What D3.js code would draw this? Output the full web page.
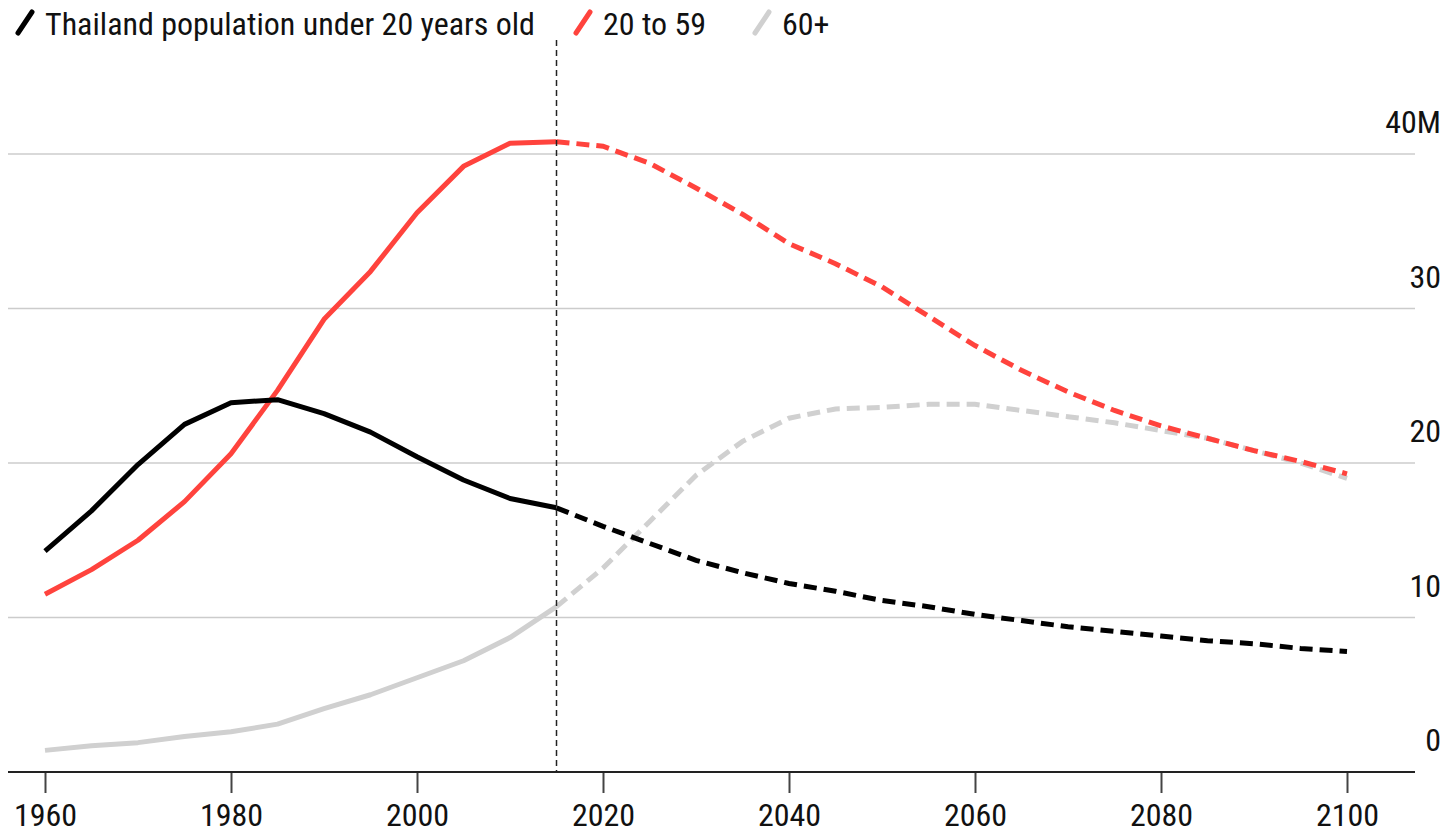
<!DOCTYPE html>
<html><head><meta charset="utf-8">
<script src="https://cdn.jsdelivr.net/npm/d3@7"></script>
<style>
body{margin:0;background:#fff;}
text{font-family:"Liberation Sans Narrow","Arial Narrow","Roboto Condensed",sans-serif;}
</style></head>
<body><svg id="c" width="1445" height="833"></svg>
<script>
const years = d3.range(1960, 2101, 5);
const under20 = [14.3,16.9,19.9,22.5,23.9,24.1,23.2,22.0,20.4,18.9,17.7,17.1,15.9,14.8,13.7,12.9,12.2,11.7,11.1,10.7,10.2,9.8,9.4,9.1,8.8,8.5,8.3,8.0,7.8];
const age20to59 = [11.5,13.1,15.0,17.5,20.6,24.7,29.3,32.4,36.2,39.2,40.7,40.8,40.5,39.4,37.8,36.1,34.2,32.9,31.4,29.5,27.6,26.0,24.6,23.4,22.4,21.6,20.8,20.1,19.3];
const age60plus = [1.4,1.7,1.9,2.3,2.6,3.1,4.1,5.0,6.1,7.2,8.7,10.7,13.2,16.2,19.2,21.4,22.9,23.5,23.6,23.8,23.8,23.4,23.0,22.6,22.1,21.6,20.8,20.0,19.0];
const splitYear = 2015;
const xTicks = [1960,1980,2000,2020,2040,2060,2080,2100];
const yTicks = [0,10,20,30,40];
const yTickLabels = ["0","10","20","30","40M"];
const seriesNames = ["Thailand population under 20 years old","20 to 59","60+"];
const seriesColors = ["#000000","#ff433d","#d0d0d0"];

const svg = d3.select("#c");
const x = d3.scaleLinear().domain([1960,2100]).range([45,1347]);
const y = d3.scaleLinear().domain([0,40]).range([772,154]);
const left = 8, right = 1415;

svg.append("g").selectAll("line").data(yTicks.filter(d=>d>0)).join("line")
  .attr("x1",left).attr("x2",right).attr("y1",d=>y(d)).attr("y2",d=>y(d))
  .attr("stroke","#cccccc").attr("stroke-width",1.6);
svg.append("g").selectAll("text").data(yTicks).join("text")
  .attr("x",1441).attr("y",d=>y(d)-21).attr("text-anchor","end")
  .attr("font-size",32).attr("fill","#111").text((d,i)=>yTickLabels[i]);

const xAxis = d3.axisBottom(x).tickValues(xTicks).tickFormat(d3.format("d")).tickSize(21).tickPadding(10);
const ag = svg.append("g").attr("transform",`translate(0,${y(0)})`).call(xAxis);
ag.select(".domain").remove();
ag.selectAll(".tick line").attr("stroke","#444").attr("stroke-width",2);
ag.selectAll(".tick text").attr("font-size",32).attr("fill","#111")
  .attr("font-family",'"Liberation Sans Narrow","Arial Narrow",sans-serif');
svg.append("line").attr("x1",left).attr("x2",right).attr("y1",y(0)).attr("y2",y(0))
  .attr("stroke","#222").attr("stroke-width",2);

const allSeries = [under20, age20to59, age60plus];
const line = d3.line().x(d=>x(d[0])).y(d=>y(d[1]));
[2,1,0].forEach(i=>{
  const pts = years.map((yr,j)=>[yr, allSeries[i][j]]);
  const hist = pts.filter(p=>p[0]<=splitYear);
  const proj = pts.filter(p=>p[0]>=splitYear);
  svg.append("path").attr("d",line(hist)).attr("fill","none")
    .attr("stroke",seriesColors[i]).attr("stroke-width",5).attr("stroke-linejoin","round");
  svg.append("path").attr("d",line(proj)).attr("fill","none")
    .attr("stroke",seriesColors[i]).attr("stroke-width",5).attr("stroke-dasharray","13,7");
});

svg.append("line").attr("x1",x(splitYear)).attr("x2",x(splitYear)).attr("y1",40).attr("y2",y(0))
  .attr("stroke","#222").attr("stroke-width",1.5).attr("stroke-dasharray","6,4");

const legendX = [15, 573, 752];
seriesNames.forEach((n,i)=>{
  const lx = legendX[i];
  svg.append("line").attr("x1",lx+3).attr("y1",33).attr("x2",lx+17).attr("y2",12)
    .attr("stroke",seriesColors[i]).attr("stroke-width",5).attr("stroke-linecap","round");
  svg.append("text").attr("x",lx+30).attr("y",35).attr("font-size",32).attr("fill","#111").text(n);
});
</script></body></html>
